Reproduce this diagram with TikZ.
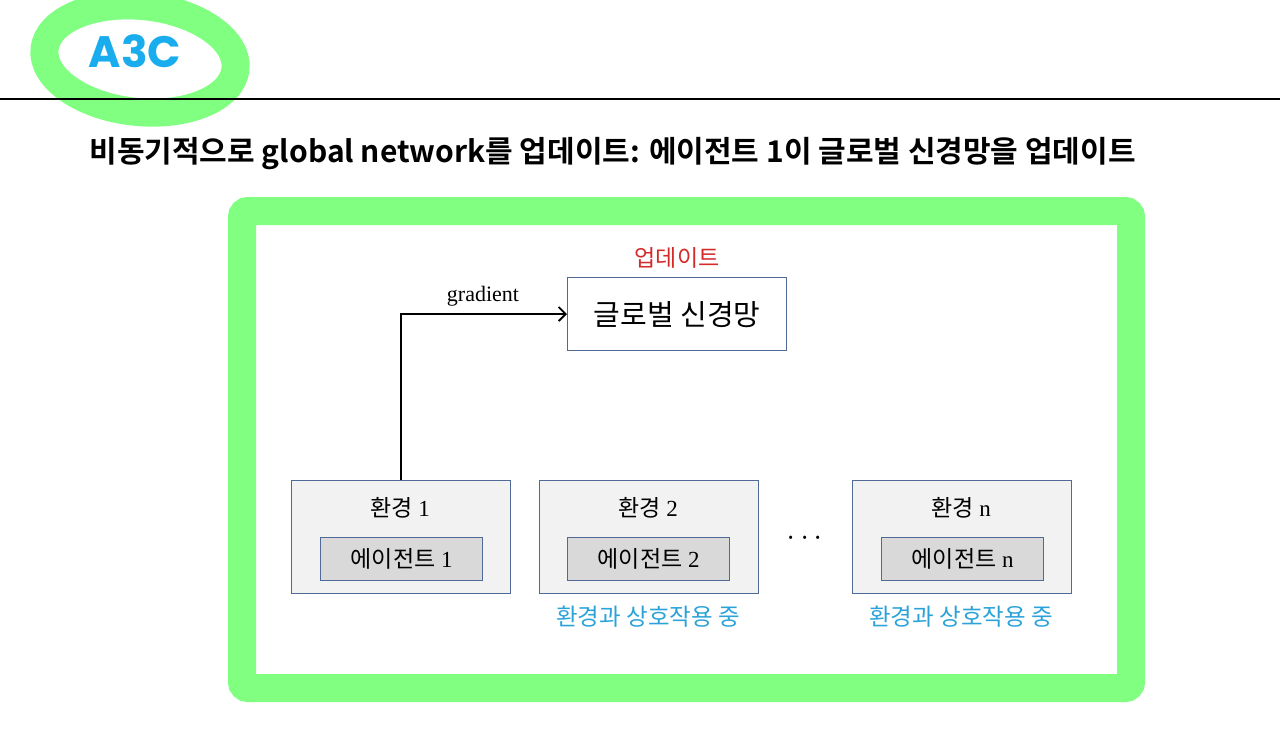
\documentclass[tikz,border=0pt]{standalone}
\usepackage{fontspec}
\setmainfont{Liberation Serif}
\newfontfamily\kr{Noto Sans CJK KR}
\newfontfamily\krb{Noto Sans CJK KR Bold}
\newfontfamily\pop{Poppins}
\usetikzlibrary{arrows.meta}
\definecolor{hlgreen}{HTML}{80FF80}
\definecolor{boxblue}{HTML}{4F6A96}
\definecolor{envfill}{HTML}{F2F2F2}
\definecolor{agfill}{HTML}{D9D9D9}
\definecolor{upred}{HTML}{D42A2A}
\definecolor{inblue}{HTML}{2BA3D9}
\definecolor{a3cblue}{HTML}{1AADEE}
\begin{document}
\begin{tikzpicture}[x=1pt,y=-1pt,
  envbox/.style={draw=boxblue,line width=1.3pt,fill=envfill,minimum width=219pt,minimum height=113pt,anchor=north west,inner sep=0pt},
  agbox/.style={draw=boxblue,line width=1.3pt,fill=agfill,minimum width=162pt,minimum height=43pt,anchor=north west,inner sep=0pt,font=\fontsize{23}{26}\selectfont},
  envlabel/.style={font=\fontsize{23}{26}\selectfont},
  intext/.style={text=inblue,font=\kr\fontsize{23.5}{26}\selectfont}]
\useasboundingbox (0,0) rectangle (1280,753);
\fill[white] (0,0) rectangle (1280,753);
% highlight ellipse
\draw[hlgreen,line width=28pt] (140,59) ellipse [x radius=96, y radius=53, rotate=-6];
\node[text=a3cblue,font=\pop\bfseries\fontsize{44}{50}\selectfont] (a3c) at (135,51) {A3C};
% rule
\coordinate (rl) at (0,99);
\coordinate (rr) at (1280,99);
\draw[black,line width=1.8pt] (rl) -- (rr);
% title
\node[font=\krb\fontsize{30}{34}\selectfont,anchor=west] (title) at (86,154) {비동기적으로 global network를 업데이트: 에이전트 1이 글로벌 신경망을 업데이트};
% green frame
\draw[hlgreen,line width=28pt,rounded corners=6pt] (242,211) rectangle (1131,688);
% global network
\node[draw=boxblue,line width=1.3pt,fill=white,minimum width=219pt,minimum height=73pt,anchor=north west,inner sep=0pt,font=\kr\fontsize{29}{32}\selectfont] (gn) at (567,277) {글로벌 신경망};
\node[text=upred,font=\kr\fontsize{23}{26}\selectfont] (upd) at (677,258) {업데이트};
% envs
\node[envbox] (e1) at (291,480) {};
\node[envbox] (e2) at (539,480) {};
\node[envbox] (en) at (852,480) {};
\node[envlabel] (e1t) at (400,508) {{\kr 환경} 1};
\node[envlabel] (e2t) at (648,508) {{\kr 환경} 2};
\node[envlabel] (ent) at (961,508) {{\kr 환경} n};
\node[agbox] (a1) at (320,537) {{\kr 에이전트} 1};
\node[agbox] (a2) at (567,537) {{\kr 에이전트} 2};
\node[agbox] (an) at (881,537) {{\kr 에이전트} n};
\node[font=\kr\fontsize{24}{28}\selectfont] (dots) at (805,541) {···};
\node[intext] (i2) at (648,617) {환경과 상호작용 중};
\node[intext] (in) at (961,617) {환경과 상호작용 중};
% arrow
\coordinate (corner) at (401,314);
\draw[line width=1.8pt,-{Straight Barb[length=7pt,width=14pt,line width=1.8pt]}] (e1.north -| corner) -- (corner) -- (gn.west |- corner);
\node[font=\fontsize{22}{26}\selectfont] (grad) at (483,296) {gradient};
\end{tikzpicture}
\end{document}
